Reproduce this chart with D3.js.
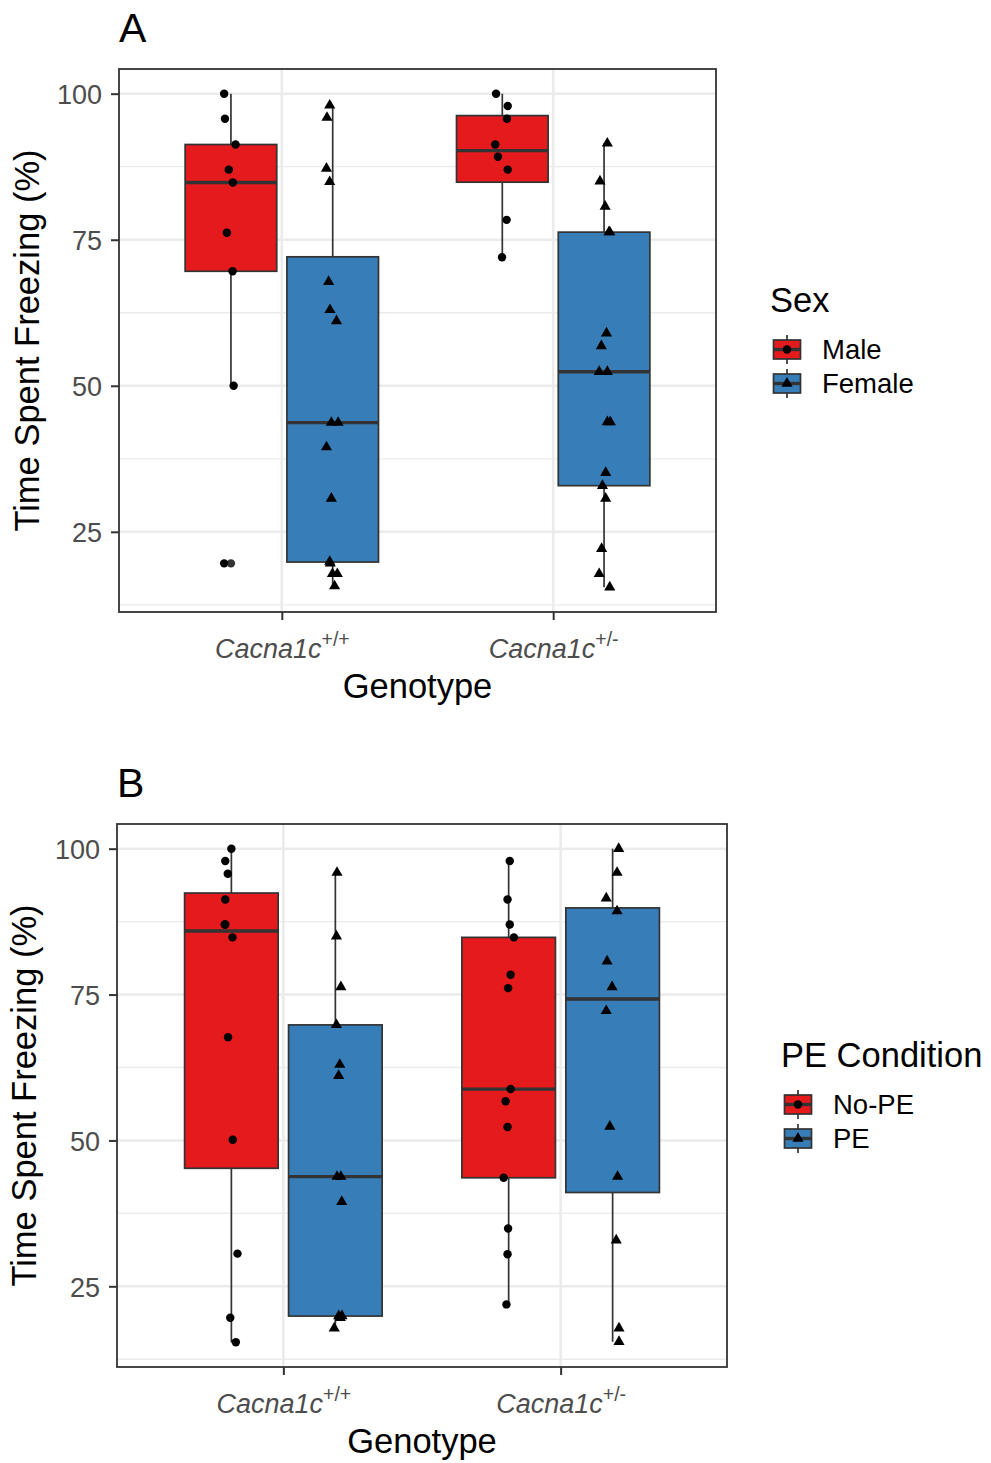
<!DOCTYPE html>
<html><head><meta charset="utf-8">
<script src="https://cdn.jsdelivr.net/npm/d3@7"></script>
<style>
body{margin:0;background:#fff}
svg{display:block}
text{font-family:"Liberation Sans",Arial,Helvetica,sans-serif}
</style>
</head><body>
<svg id="chart" width="991" height="1463"></svg>
<script>
// ---------- data ----------
const genotypes = ["Cacna1c+/+", "Cacna1c+/-"];
const genotypeBase = "Cacna1c";
const genotypeSup = ["+/+", "+/-"];
const yTicks = [25, 50, 75, 100];

// Panel A: Sex
const sexLevels = ["Male", "Female"];
const maleWT = [100, 95.7, 91.3, 87.0, 84.8, 76.2, 69.6, 50.0, 19.6];
const maleWTJitter = [-0.025, -0.022, 0.017, -0.008, 0.007, -0.015, 0.006, 0.010, -0.025];
const femaleWT = [98.0, 95.9, 87.2, 84.9, 67.8, 63.0, 61.1, 43.7, 43.7, 39.5, 30.7, 19.9, 19.6, 17.8, 17.8, 15.7];
const femaleWTJitter = [-0.011, -0.021, -0.023, -0.011, -0.015, -0.010, 0.014, -0.005, 0.020, -0.023, -0.005, -0.011, -0.009, -0.001, 0.017, 0.007];
const maleHet = [100, 97.9, 95.7, 91.3, 89.2, 87.0, 78.4, 72.0];
const maleHetJitter = [-0.023, 0.020, 0.017, -0.026, -0.016, 0.020, 0.016, -0.001];
const femaleHet = [91.5, 85.0, 80.7, 76.3, 76.3, 59.0, 56.8, 52.4, 52.4, 43.8, 43.8, 35.1, 32.9, 30.7, 22.1, 17.8, 15.5];
const femaleHetJitter = [0.012, -0.015, 0.004, 0.018, 0.021, 0.009, -0.010, -0.018, 0.012, 0.012, 0.023, 0.006, -0.006, 0.006, -0.009, -0.018, 0.021];

// Panel B: PE condition
const peLevels = ["No-PE", "PE"];
const noPeWT = [100, 97.9, 95.7, 91.3, 87.0, 87.0, 84.8, 67.7, 50.1, 30.6, 19.6, 15.4];
const noPeWTJitter = [0.000, -0.022, -0.013, -0.022, -0.024, -0.022, 0.004, -0.012, 0.005, 0.022, -0.004, 0.016];
const peWT = [95.9, 85.0, 76.3, 69.8, 63.0, 61.1, 43.8, 43.8, 39.5, 19.9, 19.9, 19.6, 17.8];
const peWTJitter = [0.006, 0.004, 0.020, 0.004, 0.016, 0.012, 0.006, 0.020, 0.023, 0.012, 0.024, 0.018, -0.004];
const noPeHet = [97.9, 91.3, 87.0, 84.8, 78.4, 76.1, 58.8, 56.7, 52.3, 43.6, 34.9, 30.5, 21.9];
const noPeHetJitter = [0.004, -0.004, 0.004, 0.019, 0.007, -0.002, 0.007, -0.011, -0.004, -0.018, -0.002, -0.004, -0.008];
const peHet = [100, 95.9, 91.5, 89.3, 80.7, 76.3, 72.2, 52.4, 43.8, 32.9, 17.8, 15.5];
const peHetJitter = [0.022, 0.016, -0.023, 0.016, -0.020, -0.002, -0.023, -0.010, 0.018, 0.013, 0.023, 0.023];

const fillColors = ["#E41A1C", "#377EB8"];

// ---------- drawing ----------
const svg = d3.select("#chart");
const INK = "#333333";
const TITLE_FS = 34.5, TICK_FS = 27, LEG_FS = 27.5, TAG_FS = 41;
const CIRCLE_SIZE = 56, TRI_SIZE = 54;

function boxStats(vals) {
  const s = vals.slice().sort(d3.ascending);
  const q1 = d3.quantile(s, 0.25), med = d3.quantile(s, 0.5), q3 = d3.quantile(s, 0.75);
  const iqr = q3 - q1;
  const inside = s.filter(v => v >= q1 - 1.5 * iqr && v <= q3 + 1.5 * iqr);
  const lo = d3.min(inside), hi = d3.max(inside);
  const outliers = s.filter(v => v < lo || v > hi);
  return {q1, med, q3, lo, hi, outliers};
}

function pointPath(levelIdx) {
  return levelIdx === 0
    ? d3.symbol(d3.symbolCircle, CIRCLE_SIZE)()
    : d3.symbol(d3.symbolTriangle, TRI_SIZE)();
}

function drawPanel(cfg) {
  const {left, top, right, bottom} = cfg;
  const g = svg.append("g");
  const all = cfg.groups.flatMap(d => d.values);
  const lo = d3.min(all), hi = d3.max(all), pad = 0.05 * (hi - lo);
  const y = d3.scaleLinear().domain([lo - pad, hi + pad]).range([bottom, top]);
  const x = d3.scalePoint().domain(genotypes).range([left, right]).padding(0.6);
  const step = x.step();
  const dodge = 0.375 * step;
  const boxW = 0.9 * dodge;

  // panel background & grid
  const minor = d3.range(0, 5).map(i => 12.5 + 25 * i).filter(v => v > y.domain()[0] && v < y.domain()[1]);
  g.append("rect").attr("x", left).attr("y", top).attr("width", right - left).attr("height", bottom - top).attr("fill", "#fff");
  g.selectAll(".minor").data(minor).join("line")
    .attr("x1", left).attr("x2", right).attr("y1", d => y(d)).attr("y2", d => y(d))
    .attr("stroke", "#ebebeb").attr("stroke-width", 1.3);
  g.selectAll(".major").data(yTicks).join("line")
    .attr("x1", left).attr("x2", right).attr("y1", d => y(d)).attr("y2", d => y(d))
    .attr("stroke", "#ebebeb").attr("stroke-width", 2.6);
  g.selectAll(".vmajor").data(genotypes).join("line")
    .attr("x1", d => x(d)).attr("x2", d => x(d)).attr("y1", top).attr("y2", bottom)
    .attr("stroke", "#ebebeb").attr("stroke-width", 2.6);

  // boxes
  cfg.groups.forEach(grp => {
    const cx = x(genotypes[grp.geno]) + (grp.level - 0.5) * dodge;
    const st = boxStats(grp.values);
    const bg = g.append("g");
    bg.append("line").attr("x1", cx).attr("x2", cx).attr("y1", y(st.hi)).attr("y2", y(st.q3))
      .attr("stroke", INK).attr("stroke-width", 1.7);
    bg.append("line").attr("x1", cx).attr("x2", cx).attr("y1", y(st.q1)).attr("y2", y(st.lo))
      .attr("stroke", INK).attr("stroke-width", 1.7);
    bg.append("rect").attr("x", cx - boxW / 2).attr("width", boxW)
      .attr("y", y(st.q3)).attr("height", y(st.q1) - y(st.q3))
      .attr("fill", fillColors[grp.level]).attr("stroke", INK).attr("stroke-width", 1.7);
    bg.append("line").attr("x1", cx - boxW / 2).attr("x2", cx + boxW / 2)
      .attr("y1", y(st.med)).attr("y2", y(st.med)).attr("stroke", INK).attr("stroke-width", 3.4);
    bg.selectAll("circle.out").data(st.outliers).join("circle")
      .attr("cx", cx).attr("cy", d => y(d)).attr("r", 4.2).attr("fill", INK);
    // jittered points
    bg.selectAll("path.pt").data(grp.values.map((v, i) => ({v, j: grp.jitter[i]}))).join("path")
      .attr("d", pointPath(grp.level))
      .attr("transform", d => `translate(${cx + d.j * step},${y(d.v)})`)
      .attr("fill", "#000");
  });

  // border
  g.append("rect").attr("x", left).attr("y", top).attr("width", right - left).attr("height", bottom - top)
    .attr("fill", "none").attr("stroke", INK).attr("stroke-width", 1.8);

  // y axis
  const ya = g.append("g").attr("transform", `translate(${left},0)`)
    .call(d3.axisLeft(y).tickValues(yTicks).tickSize(8).tickPadding(9));
  ya.select(".domain").remove();
  ya.selectAll(".tick line").attr("stroke", INK).attr("stroke-width", 2);
  ya.selectAll(".tick text").attr("fill", "#4d4d4d").attr("font-size", TICK_FS)
    .attr("font-family", "Liberation Sans, Arial, sans-serif").attr("dy", "0.36em");

  // x axis
  const xa = g.append("g").attr("transform", `translate(0,${bottom})`)
    .call(d3.axisBottom(x).tickSize(8));
  xa.select(".domain").remove();
  xa.selectAll(".tick line").attr("stroke", INK).attr("stroke-width", 2);
  xa.selectAll(".tick text").each(function (d) {
    const t = d3.select(this);
    t.text(null).attr("y", 46).attr("dy", null).attr("fill", "#4d4d4d")
      .attr("font-size", TICK_FS).attr("font-style", "italic")
      .attr("font-family", "Liberation Sans, Arial, sans-serif");
    t.append("tspan").text(genotypeBase);
    t.append("tspan").text(genotypeSup[genotypes.indexOf(d)])
      .attr("font-size", 19.5).attr("font-style", "normal").attr("dy", -12);
  });

  // axis titles
  svg.append("text").attr("x", (left + right) / 2).attr("y", bottom + 86)
    .attr("text-anchor", "middle").attr("font-size", TITLE_FS).attr("fill", "#000").text("Genotype");
  svg.append("text").attr("transform", `translate(${cfg.yTitleX},${(top + bottom) / 2}) rotate(-90)`)
    .attr("text-anchor", "middle").attr("font-size", TITLE_FS).attr("fill", "#000").text("Time Spent Freezing (%)");

  // tag
  svg.append("text").attr("x", cfg.tagX).attr("y", top - 27).attr("font-size", TAG_FS).attr("fill", "#000").text(cfg.tag);

  // legend
  const mid = (top + bottom) / 2;
  const lx = right + 54;
  svg.append("text").attr("x", lx).attr("y", mid - 29).attr("font-size", TITLE_FS).attr("fill", "#000").text(cfg.legendTitle);
  cfg.levels.forEach((lev, i) => {
    const ky = mid + 9 + i * 34, kx = lx + 17;
    const k = svg.append("g");
    k.append("line").attr("x1", kx).attr("x2", kx).attr("y1", ky - 14.5).attr("y2", ky + 14.5)
      .attr("stroke", INK).attr("stroke-width", 1.7);
    k.append("rect").attr("x", kx - 13.5).attr("y", ky - 9.5).attr("width", 27).attr("height", 19)
      .attr("fill", fillColors[i]).attr("stroke", INK).attr("stroke-width", 1.7);
    k.append("line").attr("x1", kx - 13.5).attr("x2", kx + 13.5).attr("y1", ky).attr("y2", ky)
      .attr("stroke", INK).attr("stroke-width", 3.4);
    k.append("path").attr("d", pointPath(i)).attr("transform", `translate(${kx},${ky})`).attr("fill", "#000");
    svg.append("text").attr("x", lx + 52).attr("y", ky + 9.8).attr("font-size", LEG_FS).attr("fill", "#000").text(lev);
  });
}

drawPanel({
  tag: "A", tagX: 119, yTitleX: 39,
  left: 119, right: 716, top: 69, bottom: 612,
  legendTitle: "Sex", levels: sexLevels,
  groups: [
    {geno: 0, level: 0, values: maleWT, jitter: maleWTJitter},
    {geno: 0, level: 1, values: femaleWT, jitter: femaleWTJitter},
    {geno: 1, level: 0, values: maleHet, jitter: maleHetJitter},
    {geno: 1, level: 1, values: femaleHet, jitter: femaleHetJitter}
  ]
});

drawPanel({
  tag: "B", tagX: 117, yTitleX: 36,
  left: 117, right: 727, top: 824, bottom: 1367,
  legendTitle: "PE Condition", levels: peLevels,
  groups: [
    {geno: 0, level: 0, values: noPeWT, jitter: noPeWTJitter},
    {geno: 0, level: 1, values: peWT, jitter: peWTJitter},
    {geno: 1, level: 0, values: noPeHet, jitter: noPeHetJitter},
    {geno: 1, level: 1, values: peHet, jitter: peHetJitter}
  ]
});
</script>
</body></html>
